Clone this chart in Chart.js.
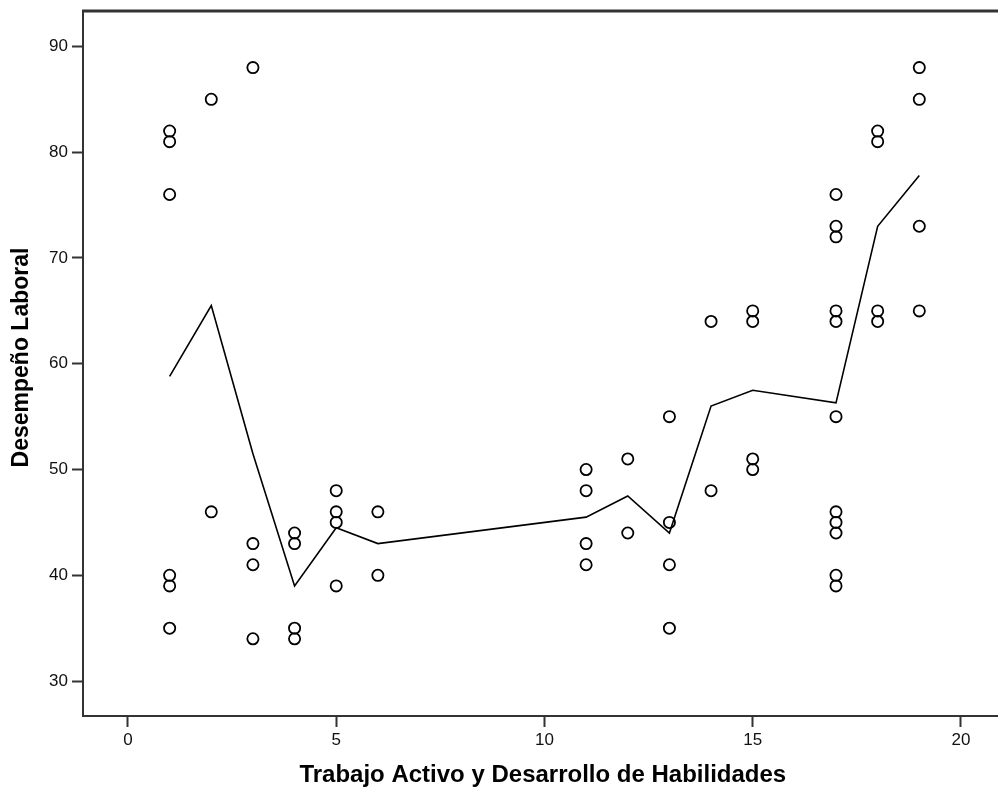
<!DOCTYPE html>
<html>
<head>
<meta charset="utf-8">
<script src="https://cdn.jsdelivr.net/npm/chart.js@4/dist/chart.umd.min.js"></script>
<style>
  html, body { margin: 0; padding: 0; background: #fff; overflow: hidden; }
  #wrap { position: relative; width: 1010px; height: 791px; }
</style>
</head>
<body>
<div id="wrap"><canvas id="c"></canvas></div>
<script>
// Observations: Trabajo Activo y Desarrollo de Habilidades (x) vs Desempeño Laboral (y)
const trabajoActivo = [
  1, 1, 1, 1, 1, 1,
  2, 2,
  3, 3, 3, 3,
  4, 4, 4, 4,
  5, 5, 5, 5,
  6, 6,
  11, 11, 11, 11,
  12, 12,
  13, 13, 13, 13,
  14, 14,
  15, 15, 15, 15,
  17, 17, 17, 17, 17, 17, 17, 17, 17, 17, 17,
  18, 18, 18, 18,
  19, 19, 19, 19
];
const desempenoLaboral = [
  82, 81, 76, 40, 39, 35,
  85, 46,
  88, 43, 41, 34,
  44, 43, 35, 34,
  48, 46, 45, 39,
  46, 40,
  50, 48, 43, 41,
  51, 44,
  55, 45, 41, 35,
  64, 48,
  65, 64, 51, 50,
  76, 73, 72, 65, 64, 55, 46, 45, 44, 40, 39,
  82, 81, 65, 64,
  88, 85, 73, 65
];

// Mean line per x value
const lineaX = [1, 2, 3, 4, 5, 6, 11, 12, 13, 14, 15, 17, 18, 19];
const lineaY = [58.8, 65.5, 51.5, 39, 44.5, 43, 45.5, 47.5, 44, 56, 57.5, 56.3, 73, 77.8];

// Tick labels
const ticksX = [0, 5, 10, 15, 20];
const ticksY = [30, 40, 50, 60, 70, 80, 90];

const tituloX = 'Trabajo Activo y Desarrollo de Habilidades';
const tituloY = 'Desempeño Laboral';

const FONT = '"Liberation Sans", Arial, sans-serif';
const INK = '#333';

const puntos = trabajoActivo.map((x, i) => ({ x: x, y: desempenoLaboral[i] }));
const linea = lineaX.map((x, i) => ({ x: x, y: lineaY[i] }));

// Heavy frame line along the top of the plot area
const topFrame = {
  id: 'topFrame',
  afterDatasetsDraw(chart) {
    const { ctx, chartArea } = chart;
    ctx.save();
    ctx.strokeStyle = INK;
    ctx.lineWidth = 3;
    ctx.beginPath();
    ctx.moveTo(chartArea.left - 1, chartArea.top);
    ctx.lineTo(chartArea.right, chartArea.top);
    ctx.stroke();
    ctx.restore();
  }
};

// Vertical axis title, set slightly above the plot's mid-height
const yTitle = {
  id: 'yTitle',
  afterDraw(chart) {
    const { ctx, chartArea } = chart;
    ctx.save();
    ctx.translate(22, (chartArea.top + chartArea.bottom) / 2 - 6);
    ctx.rotate(-Math.PI / 2);
    ctx.font = 'bold 23px ' + FONT;
    ctx.fillStyle = '#000';
    ctx.textAlign = 'center';
    ctx.textBaseline = 'middle';
    ctx.fillText(tituloY, 0, 0);
    ctx.restore();
  }
};

// Keep the plot box edges fixed regardless of label overhang
function noOverhang(scale) {
  scale.paddingTop = 0;
  scale.paddingBottom = 0;
  scale.paddingLeft = 0;
  scale.paddingRight = 0;
}

new Chart(document.getElementById('c'), {
  type: 'scatter',
  data: {
    datasets: [
      {
        type: 'line',
        data: linea,
        borderColor: '#000',
        borderWidth: 1.6,
        pointRadius: 0,
        tension: 0,
        fill: false,
        order: 2
      },
      {
        data: puntos,
        pointStyle: 'circle',
        pointRadius: 5.6,
        pointBorderWidth: 1.8,
        pointBorderColor: '#000',
        pointBackgroundColor: 'rgba(0,0,0,0)',
        order: 1
      }
    ]
  },
  options: {
    responsive: true,
    maintainAspectRatio: false,
    animation: false,
    events: [],
    layout: { padding: { top: 11, left: 0, right: 4, bottom: 0 } },
    plugins: {
      legend: { display: false },
      tooltip: { enabled: false }
    },
    scales: {
      x: {
        type: 'linear',
        min: -1.08,
        max: 21.0,
        afterBuildTicks(scale) { scale.ticks = ticksX.map(v => ({ value: v })); },
        afterFit(scale) { scale.height = 75; noOverhang(scale); },
        border: { display: true, color: INK, width: 2 },
        grid: { drawOnChartArea: false, drawTicks: true, tickLength: 11, tickColor: INK, tickWidth: 2 },
        ticks: {
          color: '#111',
          padding: 3,
          maxRotation: 0,
          font: { family: FONT, size: 17 }
        },
        title: {
          display: true,
          text: tituloX,
          color: '#000',
          padding: { top: 0, bottom: 1 },
          font: { family: FONT, size: 24, weight: 'bold' }
        }
      },
      y: {
        type: 'linear',
        min: 26.7,
        max: 93.35,
        afterBuildTicks(scale) { scale.ticks = ticksY.map(v => ({ value: v })); },
        afterFit(scale) { scale.width = 83; noOverhang(scale); },
        border: { display: true, color: INK, width: 2 },
        grid: { drawOnChartArea: false, drawTicks: true, tickLength: 11, tickColor: INK, tickWidth: 2 },
        ticks: {
          color: '#111',
          padding: 4,
          font: { family: FONT, size: 17 }
        },
        title: { display: false }
      }
    }
  },
  plugins: [topFrame, yTitle]
});
</script>
</body>
</html>
